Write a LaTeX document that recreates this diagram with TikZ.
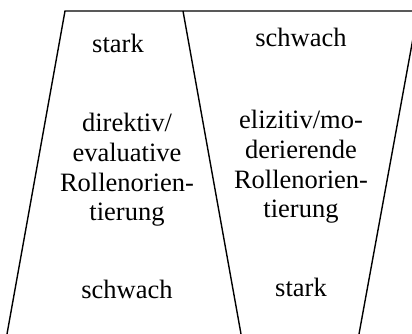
\documentclass[tikz,border=0pt]{standalone}
\usepackage{fontspec}
\setmainfont{Liberation Serif}
\begin{document}
\begin{tikzpicture}[x=1pt,y=-1pt,
  edge/.style={line width=1.4pt,black},
  lbl/.style={inner sep=0pt,align=center,font=\fontsize{26.5}{29.7}\selectfont}]
\useasboundingbox (0,0) rectangle (412,334);
\clip (0,0) rectangle (412,334);
\coordinate (tl) at (65,11);
\coordinate (bl) at (7,334);
\coordinate (tm) at (183,11);
\coordinate (bm) at (241,334);
\coordinate (tr) at (418,11);
\coordinate (br) at (359,334);
\coordinate (te) at (430,11);
\draw[edge] (bl) -- (tl) -- (te);
\draw[edge] (tm) -- (bm);
\draw[edge] (tr) -- (br);
\node[lbl] (lt) at (118,43) {stark};
\node[lbl] (lm) at (127,170) {direktiv/\\evaluative\\Rollenorien-\\tierung};
\node[lbl] (lb) at (127,289) {schwach};
\node[lbl] (rt) at (301,37) {schwach};
\node[lbl] (rm) at (301,167) {elizitiv/mo-\\derierende\\Rollenorien-\\tierung};
\node[lbl] (rb) at (301,287) {stark};
\end{tikzpicture}
\end{document}
